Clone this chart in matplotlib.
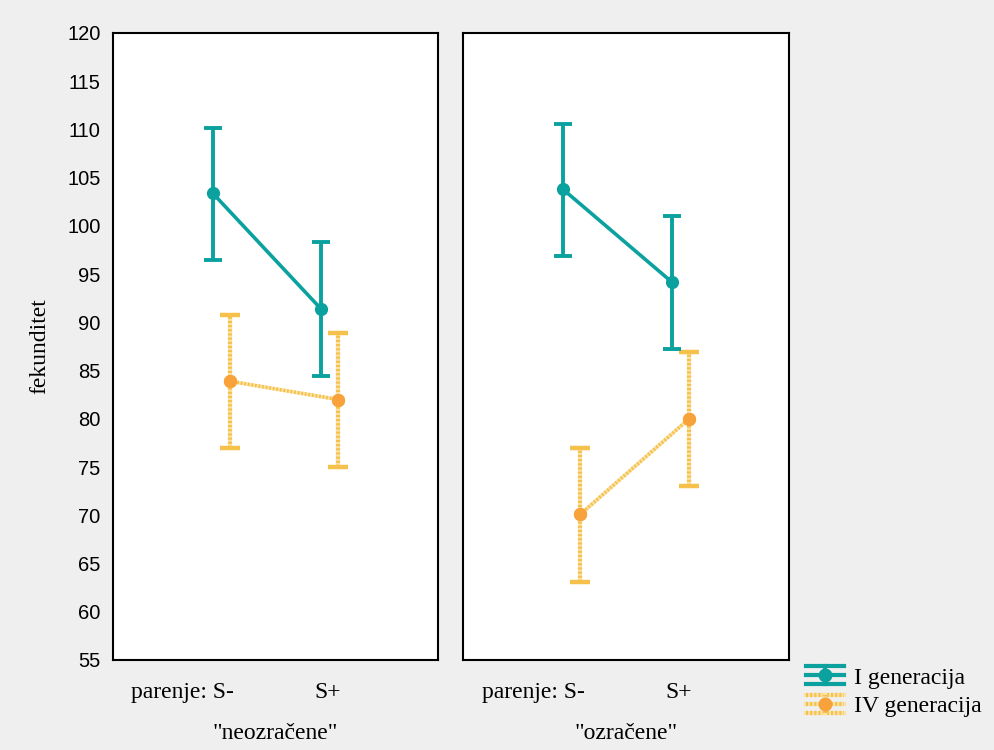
import numpy as np
import matplotlib.pyplot as plt
from matplotlib.legend_handler import HandlerBase
from matplotlib.lines import Line2D

# data
panels = ['"neozračene"', '"ozračene"']
parenje = ['parenje: S-', 'S+']
series = ['I generacija', 'IV generacija']

gen1_mean = [[103.4, 91.4], [103.8, 94.2]]
gen1_low = [[96.5, 84.4], [96.9, 87.2]]
gen1_high = [[110.2, 98.3], [110.6, 101.0]]

gen4_mean = [[83.9, 82.0], [70.1, 80.0]]
gen4_low = [[77.0, 75.0], [63.1, 73.0]]
gen4_high = [[90.8, 88.9], [77.0, 86.9]]

teal = '#0aa19f'
orange = '#f7a23a'
yel = '#f6c14a'
yel_pale = '#fbe2a6'
bg = '#efefef'

serif = 'Liberation Serif'
sans = 'Liberation Sans'


class ErrHandler(HandlerBase):
    # legend glyph: three horizontal bars, a vertical bar and a marker
    def __init__(self, color, mcolor, striped):
        super().__init__()
        self.color = color
        self.mcolor = mcolor
        self.striped = striped

    def create_artists(self, legend, orig_handle, xdescent, ydescent,
                       width, height, fontsize, trans):
        xs = [-xdescent, -xdescent + width]
        xm = -xdescent + width / 2
        ym = -ydescent + height / 2
        d = 0.55 * height
        segs = [(xs, [ym - d, ym - d]), (xs, [ym, ym]), (xs, [ym + d, ym + d]),
                ([xm, xm], [ym - d, ym + d])]
        out = []
        for sx, sy in segs:
            if self.striped:
                out.append(Line2D(sx, sy, color=yel_pale, lw=3, transform=trans))
                out.append(Line2D(sx, sy, color=self.color, lw=3,
                                  ls=(0, (0.5, 0.5)), transform=trans))
            else:
                out.append(Line2D(sx, sy, color=self.color, lw=3, transform=trans))
        out.append(Line2D([xm], [ym], marker='o', ms=9, color=self.mcolor,
                          ls='none', transform=trans))
        return out


fig = plt.figure(figsize=(9.95, 7.5), dpi=100, facecolor=bg)
W, H = 995, 750
ax1 = fig.add_axes([113 / W, 90 / H, 325 / W, 627 / H])
ax2 = fig.add_axes([463 / W, 90 / H, 326 / W, 627 / H], sharey=ax1)

x = np.arange(2)
off = 0.08
handles = []
for i, ax in enumerate([ax1, ax2]):
    m1 = np.array(gen1_mean[i])
    e1 = [m1 - np.array(gen1_low[i]), np.array(gen1_high[i]) - m1]
    h1 = ax.errorbar(x - off, m1, yerr=e1, color=teal, lw=2.6, elinewidth=2.8,
                     capsize=6.5, capthick=2.8, marker='o', ms=8.5, zorder=3)

    m4 = np.array(gen4_mean[i])
    e4 = [m4 - np.array(gen4_low[i]), np.array(gen4_high[i]) - m4]
    # pale base, striped overlay
    h4 = ax.errorbar(x + off, m4, yerr=e4, color=yel_pale, lw=2.6, elinewidth=3,
                     capsize=7, capthick=3.2, marker='o', ms=8.5, mfc=orange,
                     mec=orange, zorder=2)
    for cap in h4[1]:
        cap.set_markeredgecolor(yel)
    ax.vlines(x + off, gen4_low[i], gen4_high[i], color=yel, lw=3,
              linestyles=(0, (0.5, 0.5)), zorder=2.1)
    ax.plot(x + off, m4, color=yel, lw=2.6, ls=(0, (0.5, 0.5)), zorder=2.1)
    ax.plot(x + off, m4, 'o', color=orange, ms=8.5, zorder=2.2)
    if i == 0:
        handles = [h1, h4]

    ax.set_xlim(-1, 2)
    ax.set_ylim(55, 120)
    ax.set_xticks([])
    ax.set_facecolor('white')
    for s in ax.spines.values():
        s.set_linewidth(1.5)
        s.set_color('black')

    # category labels
    ax.text(x[0] + 0.12, -0.035, parenje[0], transform=ax.get_xaxis_transform(),
            ha='right', va='top', fontsize=17, family=serif)
    ax.text(x[1] - 0.02, -0.035, parenje[1], transform=ax.get_xaxis_transform(),
            ha='center', va='top', fontsize=17, family=serif)
    ax.text(0.5, -0.1, panels[i], transform=ax.transAxes, ha='center',
            va='top', fontsize=17, family=serif)

ax1.set_yticks(np.arange(55, 121, 5))
ax1.tick_params(axis='y', length=0, pad=9, labelsize=14.5)
for lab in ax1.get_yticklabels():
    lab.set_family(sans)
ax2.tick_params(axis='y', length=0, labelleft=False)
ax1.set_ylabel('fekunditet', fontsize=17, family=serif, labelpad=12)

fig.legend(handles, series, loc='upper left', bbox_to_anchor=(806 / W, 1 - 667 / H),
           frameon=False, prop={'family': serif, 'size': 17}, handlelength=1.6,
           handletextpad=0.45, labelspacing=0.3, borderaxespad=0, borderpad=0,
           handler_map={handles[0]: ErrHandler(teal, teal, False),
                        handles[1]: ErrHandler(yel, orange, True)})

fig.savefig('out.png', dpi=100, facecolor=bg)
